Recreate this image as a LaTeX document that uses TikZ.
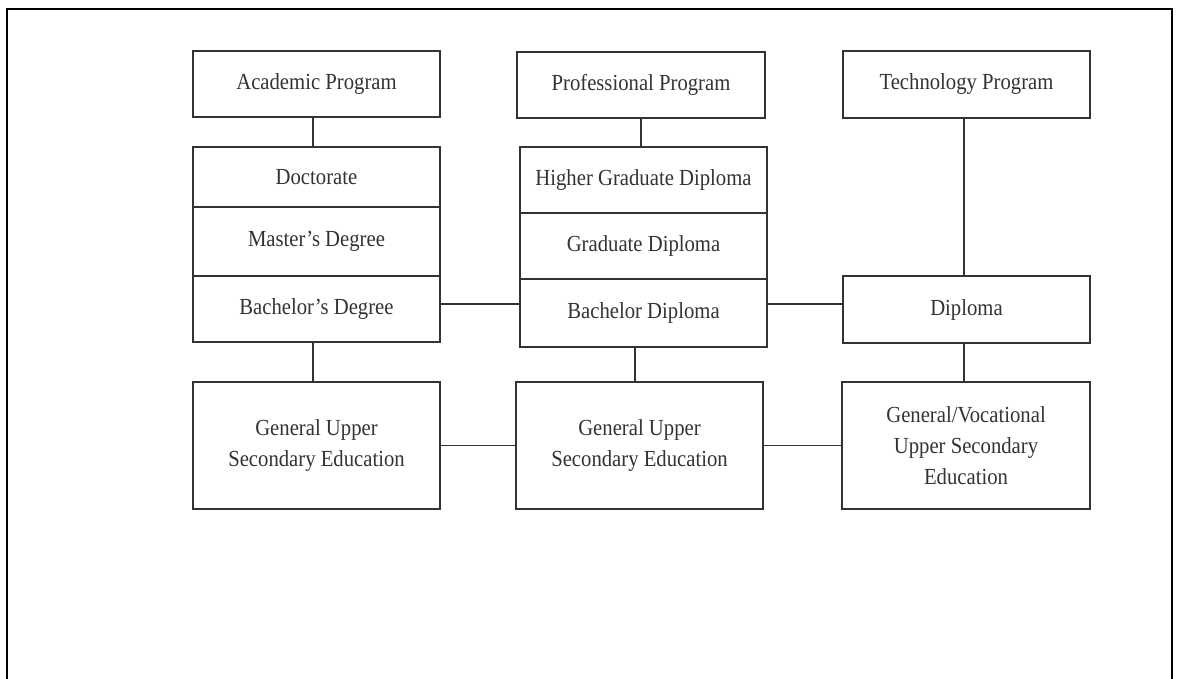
\documentclass[tikz,border=0pt]{standalone}
\usepackage{fontspec}
\setmainfont{Liberation Serif}[FakeStretch=0.9]
\definecolor{ink}{HTML}{333333}
\tikzset{
  box/.style={draw=ink, line width=1.3pt, text=ink, inner sep=0pt, align=center,
    font=\fontsize{23}{31}\selectfont},
  link/.style={draw=ink, line width=1.3pt},
  frame/.style={draw=black, line width=2pt}
}
\begin{document}
\begin{tikzpicture}[x=1pt,y=-1pt]
\useasboundingbox (0,0) rectangle (1177,679);
\draw[frame] (7,679) -- (7,9) -- (1172,9) -- (1172,679);
% top row
\node[box, minimum width=247pt, minimum height=66pt] (acad) at (316.5,84) {Academic Program};
\node[box, minimum width=248pt, minimum height=66pt] (prof) at (641,85) {Professional Program};
\node[box, minimum width=247pt, minimum height=67pt] (tech) at (966.5,84.5) {Technology Program};
% academic stack
\node[box, minimum width=247pt, minimum height=60pt] (doc) at (316.5,177) {Doctorate};
\node[box, minimum width=247pt, minimum height=69pt] (mas) at (316.5,241.5) {Master's Degree};
\node[box, minimum width=247pt, minimum height=66pt] (bach) at (316.5,309) {Bachelor's Degree};
% professional stack
\node[box, minimum width=247pt, minimum height=66pt] (hgd) at (643.5,180) {Higher Graduate Diploma};
\node[box, minimum width=247pt, minimum height=66pt] (gd) at (643.5,246) {Graduate Diploma};
\node[box, minimum width=247pt, minimum height=68pt] (bd) at (643.5,313) {Bachelor Diploma};
% technology
\node[box, minimum width=247pt, minimum height=67pt] (dip) at (966.5,309.5) {Diploma};
% bottom row
\node[box, minimum width=247pt, minimum height=127pt] (guse1) at (316.5,445.5) {General Upper\\Secondary Education};
\node[box, minimum width=247pt, minimum height=127pt] (guse2) at (639.5,445.5) {General Upper\\Secondary Education};
\node[box, minimum width=248pt, minimum height=127pt] (gvuse) at (966,445.5) {General/Vocational\\Upper Secondary\\Education};
% connectors
\path[link] ([xshift=-3.5pt]acad.south) -- ([xshift=-3.5pt]acad.south |- doc.north);
\path[link] (prof.south) -- (prof.south |- hgd.north);
\path[link] ([xshift=-2.5pt]tech.south) -- ([xshift=-2.5pt]tech.south |- dip.north);
\path[link] ([yshift=5pt]bach.east) -- ([yshift=5pt]bach.east -| bd.west);
\path[link] ([yshift=9pt]bd.east) -- ([yshift=9pt]bd.east -| dip.west);
\path[link] ([xshift=-3.5pt]bach.south) -- ([xshift=-3.5pt]bach.south |- guse1.north);
\path[link] ([xshift=-4.5pt]guse2.north |- bd.south) -- ([xshift=-4.5pt]guse2.north);
\path[link] ([xshift=-2.5pt]dip.south) -- ([xshift=-2.5pt]dip.south |- gvuse.north);
\path[link] (guse1.east) -- (guse2.west);
\path[link] (guse2.east) -- (gvuse.west);
\end{tikzpicture}
\end{document}
